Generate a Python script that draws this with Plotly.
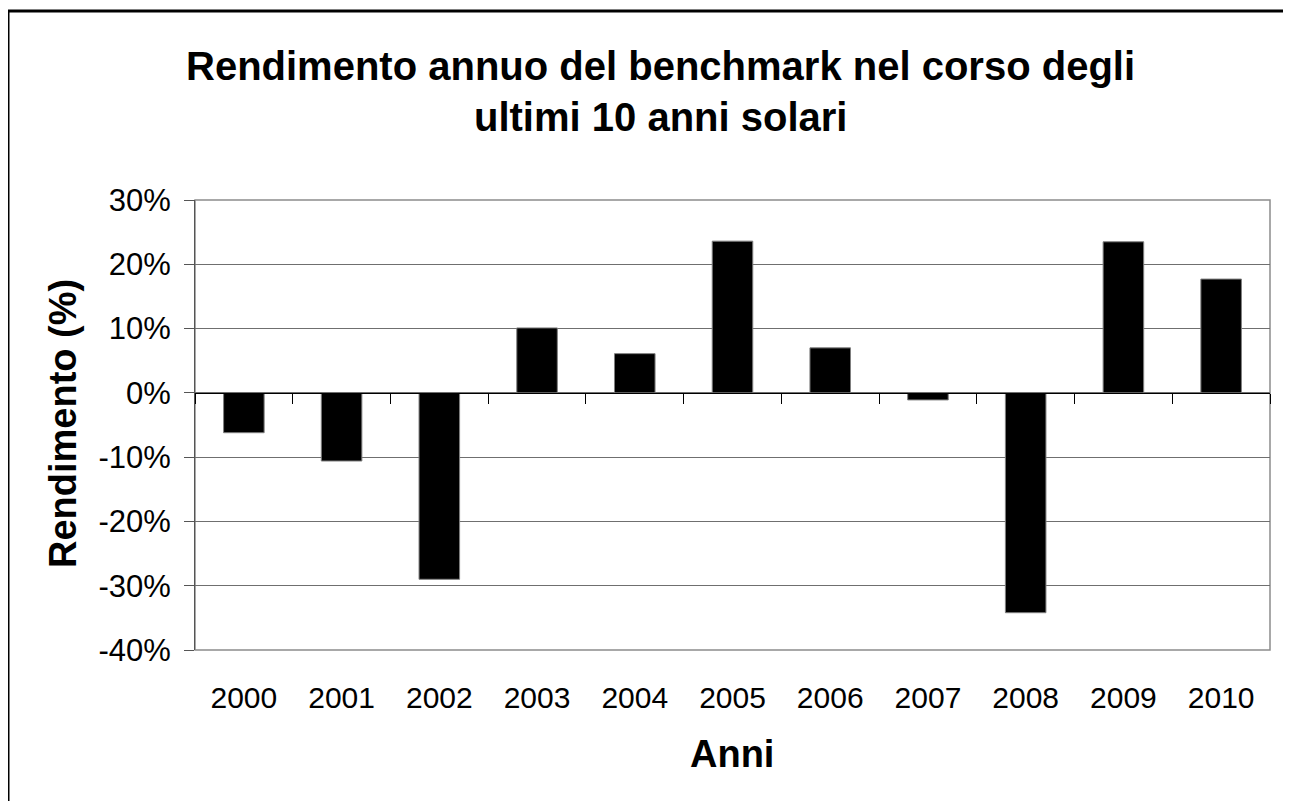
import plotly.graph_objects as go

years = ["2000", "2001", "2002", "2003", "2004", "2005", "2006", "2007", "2008", "2009", "2010"]
returns = [-6.2, -10.6, -29.0, 10.1, 6.1, 23.6, 7.0, -1.1, -34.2, 23.5, 17.7]
y_ticks = [-40, -30, -20, -10, 0, 10, 20, 30]
y_tick_text = ["-40%", "-30%", "-20%", "-10%", "0%", "10%", "20%", "30%"]

# The page body has an 8px margin, so lay out in screen pixels and shift.
OFF = 8
W, H = 1291 - OFF, 801 - OFF
L, R, T, B = 195, 1270, 200, 650  # plot area in screen pixels
PW, PH = R - L, B - T

def px(x):
    return (x - L) / PW

def py(y):
    return (B - y) / PH

FONT = "Arial, Liberation Sans, sans-serif"

fig = go.Figure()
fig.add_trace(go.Bar(
    x=years, y=returns,
    marker=dict(color="black", line=dict(color="#7f7f7f", width=1)),
    showlegend=False, hoverinfo="x+y",
))
# invisible trace for the zero-line category-boundary axis
fig.add_trace(go.Scatter(x=[-0.5, 10.5], y=[0, 0], xaxis="x2", yaxis="y",
                         mode="lines", line=dict(width=0), showlegend=False,
                         hoverinfo="skip"))

zero_pos = (0 - y_ticks[0]) / (y_ticks[-1] - y_ticks[0])

fig.update_layout(
    width=W, height=H,
    margin=dict(l=L - OFF, r=W - (R - OFF), t=T - OFF, b=H - (B - OFF), autoexpand=False),
    paper_bgcolor="white", plot_bgcolor="white",
    font=dict(family=FONT, color="black", size=30),
    bargap=0.585,
    xaxis=dict(
        type="category", range=[-0.5, 10.5],
        showgrid=False, zeroline=False, showline=False, ticks="",
        tickfont=dict(size=30, family=FONT, color="black"),
        ticklabelstandoff=27,
    ),
    xaxis2=dict(
        overlaying="x", anchor="free", position=zero_pos,
        range=[-0.5, 10.5], type="linear",
        tickvals=[i - 0.5 for i in range(12)],
        ticks="outside", ticklen=10, tickwidth=1, tickcolor="black",
        showticklabels=False, showgrid=False, zeroline=False,
        showline=True, linecolor="black", linewidth=1,
    ),
    yaxis=dict(
        range=[y_ticks[0], y_ticks[-1]], tickvals=y_ticks, ticktext=y_tick_text,
        ticks="outside", ticklen=10, tickwidth=1,
        tickcolor="#555555",
        showline=True, linecolor="#555555", linewidth=1,
        showgrid=True, gridcolor="#6f6f6f", gridwidth=1,
        zeroline=False,
        tickfont=dict(size=31, family=FONT, color="black"),
        ticklabelstandoff=7,
    ),
    shapes=[
        dict(type="rect", xref="paper", yref="paper", x0=0, x1=1, y0=0, y1=1,
             line=dict(color="#8c8c8c", width=1.5), layer="below"),
        dict(type="rect", xref="paper", yref="paper",
             x0=px(8), x1=px(1400), y0=py(11), y1=py(900),
             line=dict(color="black", width=3)),
    ],
    annotations=[
        dict(text="<b>Rendimento annuo del benchmark nel corso degli</b>",
             xref="paper", yref="paper", x=px(660), y=py(66),
             xanchor="center", yanchor="middle", showarrow=False,
             font=dict(size=40, family=FONT, color="black")),
        dict(text="<b>ultimi 10 anni solari</b>",
             xref="paper", yref="paper", x=px(660), y=py(117),
             xanchor="center", yanchor="middle", showarrow=False,
             font=dict(size=40, family=FONT, color="black")),
        dict(text="<b>Rendimento (%)</b>", textangle=-90,
             xref="paper", yref="paper", x=px(63), y=py(424),
             xanchor="center", yanchor="middle", showarrow=False,
             font=dict(size=38, family=FONT, color="black")),
        dict(text="<b>Anni</b>",
             xref="paper", yref="paper", x=px(732), y=py(754),
             xanchor="center", yanchor="middle", showarrow=False,
             font=dict(size=38, family=FONT, color="black")),
    ],
)

fig.write_html("out.html")
